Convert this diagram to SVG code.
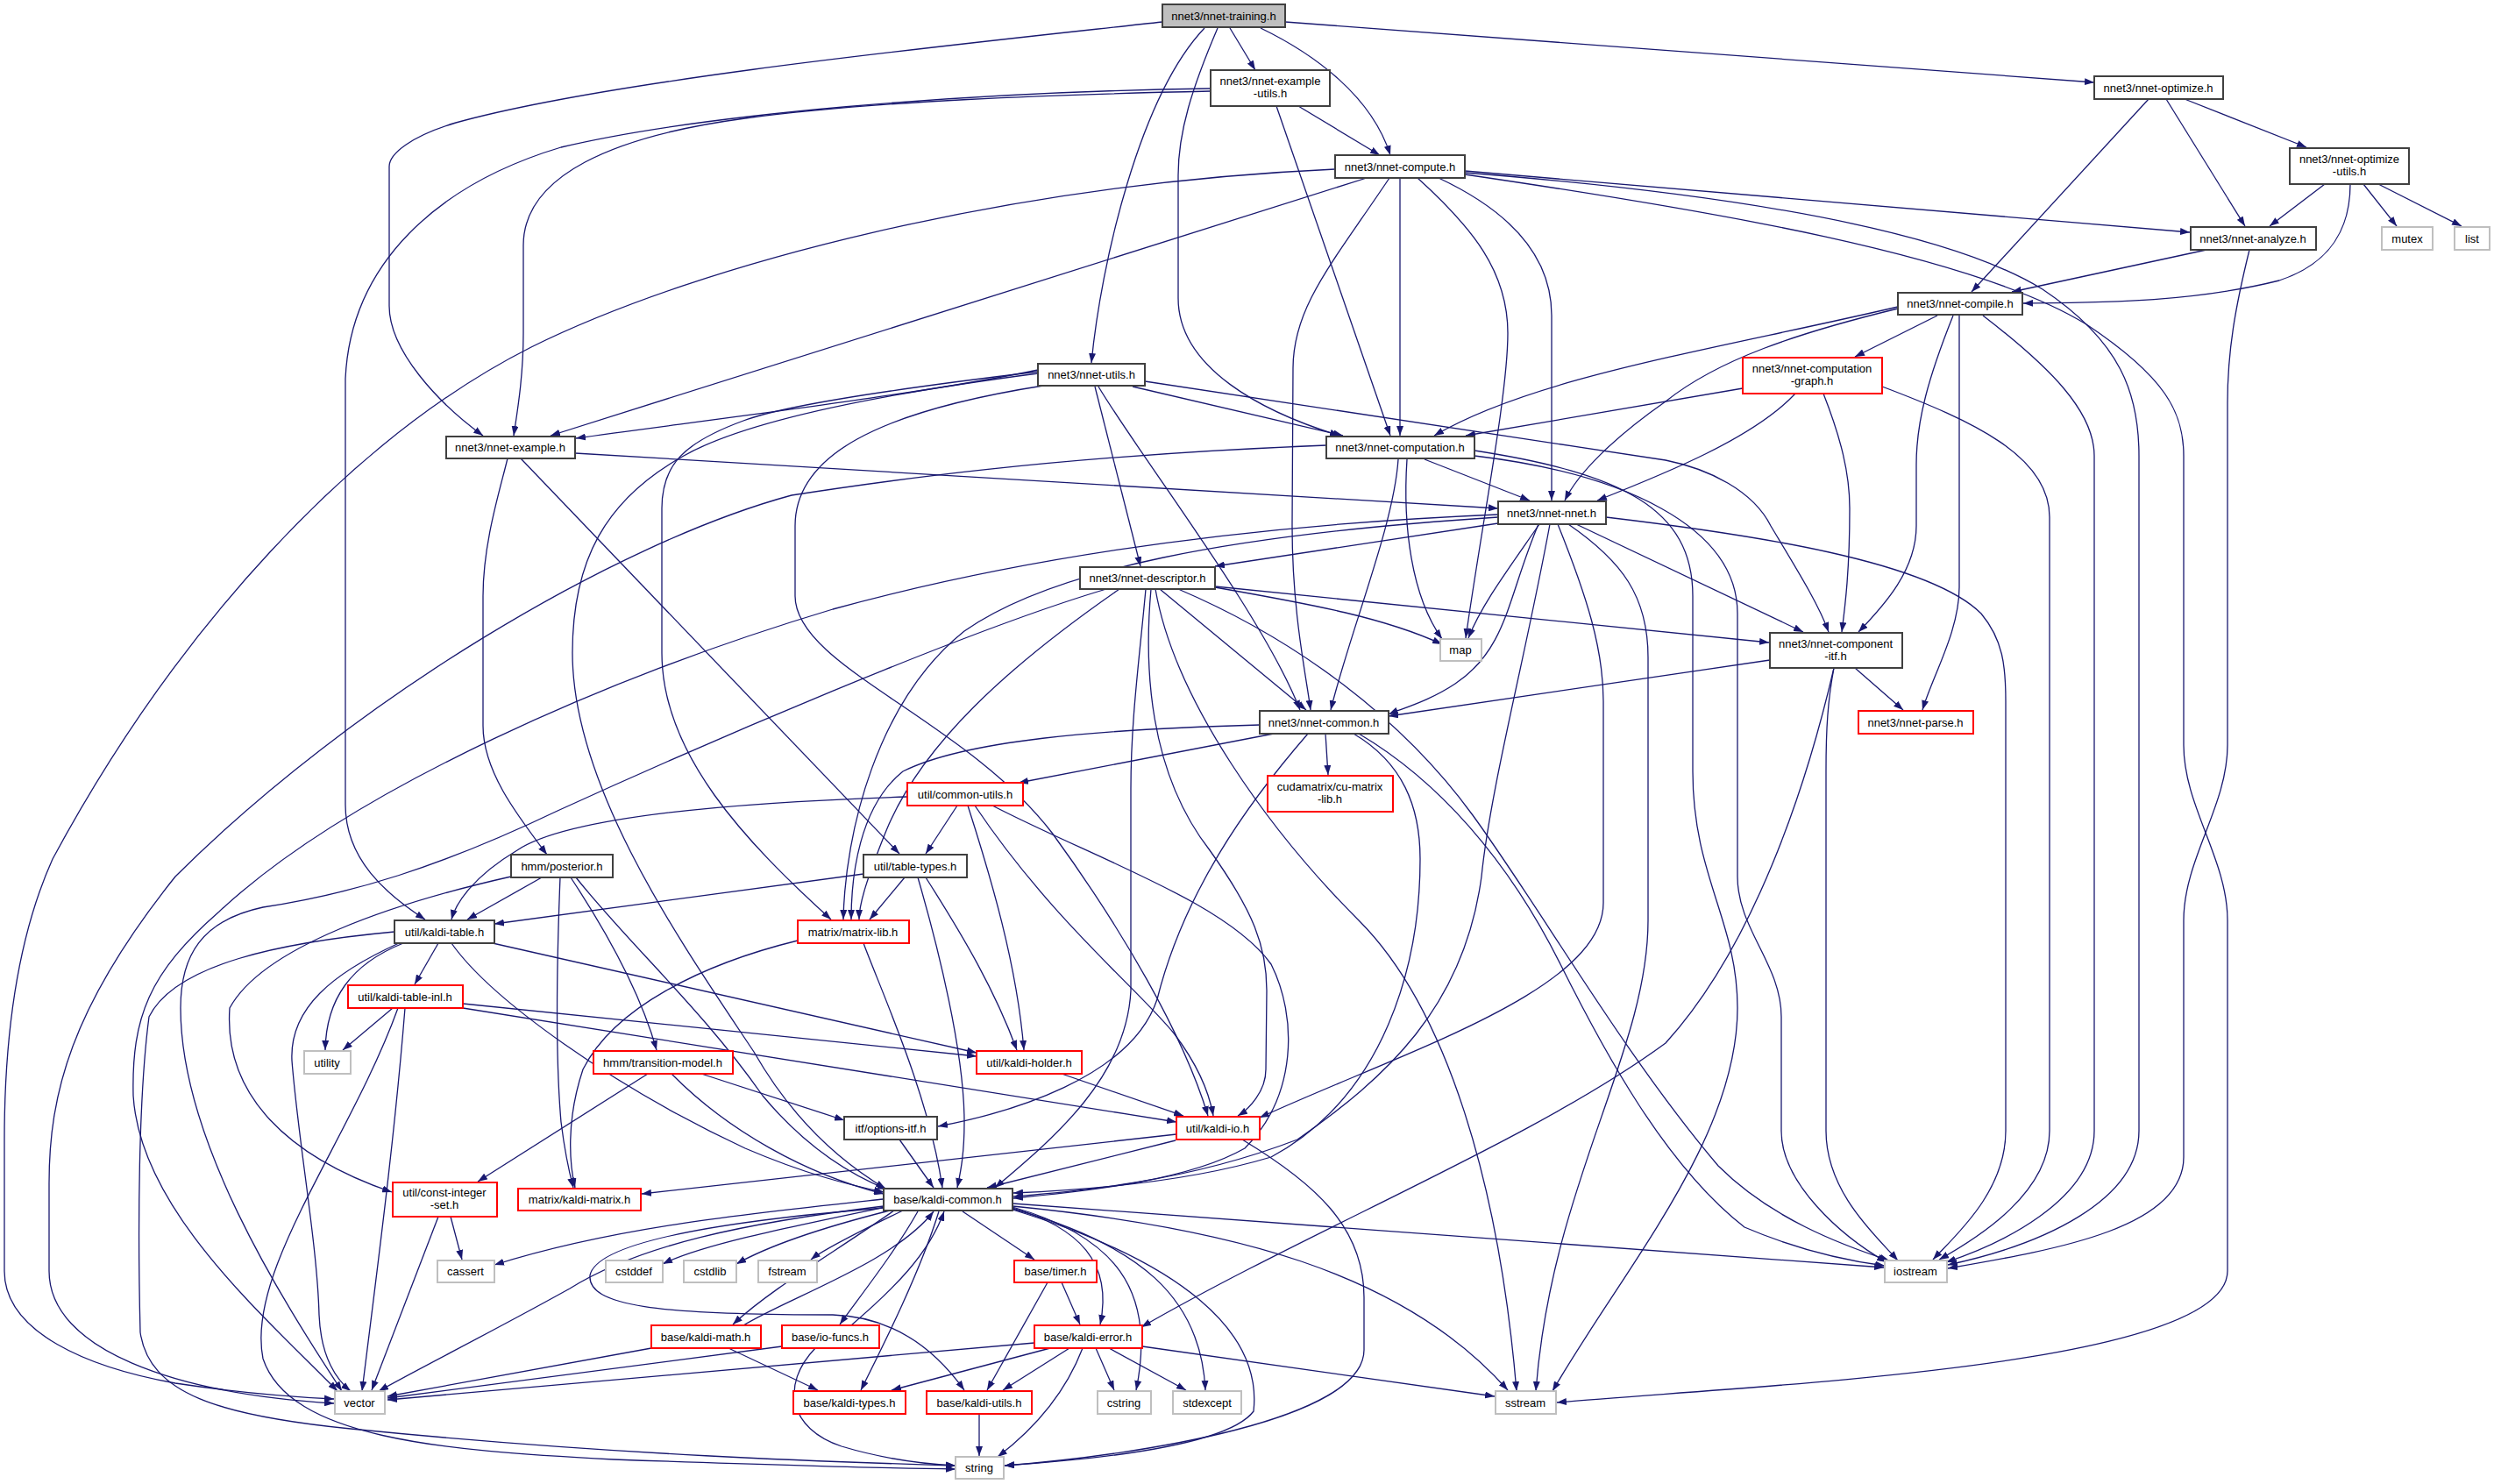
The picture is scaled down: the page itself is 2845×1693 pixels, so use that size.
<svg xmlns="http://www.w3.org/2000/svg" width="2845" height="1693" viewBox="0 0 2845 1693">
<style>
.n rect{fill:#fff;stroke:#404040;stroke-width:2}
.r rect{fill:#fff;stroke:#ff0000;stroke-width:2}
.g rect{fill:#fff;stroke:#bfbfbf;stroke-width:2}
.root rect{fill:#bfbfbf;stroke:#404040;stroke-width:2}
text{font-family:"Liberation Sans",Arial,sans-serif;font-size:13px;fill:#000;text-anchor:middle}
.e path{fill:none;stroke:#191970;stroke-width:1.3;marker-end:url(#ah)}
</style>
<defs>
<marker id="ah" viewBox="0 0 11 8" refX="11" refY="4" markerWidth="11" markerHeight="8" markerUnits="userSpaceOnUse" orient="auto"><path d="M0,0L11,4L0,8z" fill="#191970"/></marker>
</defs>
<rect width="2845" height="1693" fill="#fff"/>
<g class="e" id="edges">
<path d="M1403,32L1432,80"/>
<path d="M1438,32C1500,62 1565,110 1586,177"/>
<path d="M1374,32C1300,110 1256,300 1245,414"/>
<path d="M1389,32C1360,100 1344,150 1344,200L1344,340C1344,420 1440,470 1528,497"/>
<path d="M1326,25C1100,50 700,90 520,140C470,155 444,175 444,190L444,349C444,400 500,460 551,497"/>
<path d="M1466,25L2389,94"/>
<path d="M1481,121L1574,177"/>
<path d="M1456,121L1586,497"/>
<path d="M1381,104C1200,108 1000,115 850,135C700,155 597,200 597,280L597,380C597,430 590,470 586,497"/>
<path d="M1381,101C1100,105 800,130 640,168C500,210 400,300 394,432L394,918C394,980 440,1020 485,1049"/>
<path d="M1523,193C1150,210 800,300 606,396C400,500 200,720 60,980C15,1080 5,1200 5,1300L5,1450C5,1520 100,1560 200,1578C280,1590 340,1594 381,1596"/>
<path d="M1559,203L628,497"/>
<path d="M1585,203C1520,300 1475,350 1475,420L1474,600C1474,700 1490,770 1495,810"/>
<path d="M1597,203L1597,497"/>
<path d="M1617,203C1680,260 1720,310 1720,380C1720,450 1690,600 1672,728"/>
<path d="M1641,203C1720,240 1770,290 1770,360L1770,571"/>
<path d="M1671,195L2498,265"/>
<path d="M1671,197C1900,215 2200,250 2330,330C2420,390 2440,450 2440,520L2440,1290C2440,1370 2330,1420 2222,1443"/>
<path d="M1671,199C1950,240 2250,290 2380,370C2470,430 2491,470 2491,520L2491,850C2491,920 2541,980 2541,1050L2541,1450C2541,1560 2000,1580 1776,1600"/>
<path d="M2451,113L2249,333"/>
<path d="M2471,113L2561,258"/>
<path d="M2492,113L2631,168"/>
<path d="M2652,210L2589,258"/>
<path d="M2681,210C2681,260 2660,300 2600,320C2500,345 2400,345 2308,346"/>
<path d="M2696,210L2734,258"/>
<path d="M2713,210L2808,258"/>
<path d="M2517,285L2295,333"/>
<path d="M2566,285C2550,350 2541,400 2541,460L2541,850C2541,920 2491,980 2491,1050L2491,1320C2491,1400 2350,1425 2222,1447"/>
<path d="M2165,350C1950,400 1750,430 1636,497"/>
<path d="M2165,352C2050,380 1960,410 1900,458C1840,500 1800,540 1785,571"/>
<path d="M2210,360L2116,407"/>
<path d="M2228,360C2200,430 2186,480 2186,530L2186,600C2186,650 2150,690 2120,721"/>
<path d="M2235,360L2235,670C2235,720 2205,770 2193,810"/>
<path d="M2262,360C2340,420 2389,470 2389,520L2389,1290C2389,1370 2280,1420 2220,1440"/>
<path d="M1988,443L1672,497"/>
<path d="M2048,449C2000,500 1900,540 1822,571"/>
<path d="M2080,449C2100,500 2110,540 2110,580C2110,650 2105,690 2101,721"/>
<path d="M2147,441C2250,480 2338,520 2338,590L2338,1290C2338,1360 2260,1410 2212,1437"/>
<path d="M1184,422C1050,450 800,480 657,500"/>
<path d="M1292,441L1532,497"/>
<path d="M1249,441L1301,646"/>
<path d="M1253,441C1300,520 1440,700 1483,810"/>
<path d="M1306,435L1900,525C1950,535 2000,560 2020,600C2050,650 2075,690 2086,721"/>
<path d="M1184,424C1050,440 900,460 848,480C780,505 755,530 755,580L755,745C755,860 850,960 948,1049"/>
<path d="M1184,426C1000,450 850,480 780,520C690,570 653,640 653,745C653,900 780,1080 860,1200C900,1270 950,1320 1010,1356"/>
<path d="M1190,440C1000,470 907,520 907,600L907,680C907,760 1100,820 1200,950C1280,1060 1350,1180 1378,1273"/>
<path d="M1625,524L1745,571"/>
<path d="M1595,524C1590,600 1540,720 1518,810"/>
<path d="M1605,524C1600,600 1610,680 1645,729"/>
<path d="M1513,508C1200,520 1000,550 903,565C700,620 400,800 200,1000C80,1150 56,1250 56,1350L56,1450C56,1540 200,1590 381,1601"/>
<path d="M1682,514C1850,540 1931,580 1931,680L1931,880C1931,1000 1982,1050 1982,1150C1982,1300 1850,1450 1771,1587"/>
<path d="M1682,520C1850,540 1982,600 1982,700L1982,1000C1982,1060 2032,1100 2032,1160L2032,1290C2032,1350 2100,1410 2152,1440"/>
<path d="M656,517L1709,580"/>
<path d="M594,523L1026,974"/>
<path d="M579,523C570,560 551,620 551,680L551,828C551,880 590,930 624,975"/>
<path d="M1709,597L1386,646"/>
<path d="M1756,598C1720,650 1690,690 1675,728"/>
<path d="M1798,598L2057,721"/>
<path d="M1755,598C1720,680 1720,740 1660,780C1630,800 1600,808 1584,815"/>
<path d="M1709,587C1400,600 1150,640 950,695C700,770 400,900 250,1040C170,1110 150,1160 152,1250C160,1380 300,1500 385,1587"/>
<path d="M1709,590C1400,610 1200,650 1100,720C1000,800 964,950 962,1049"/>
<path d="M1768,598C1740,750 1700,900 1690,1000C1670,1150 1580,1230 1480,1300C1350,1350 1220,1360 1156,1365"/>
<path d="M1777,598C1810,680 1829,740 1829,800L1829,1030C1829,1130 1600,1200 1437,1275"/>
<path d="M1832,590C2000,610 2200,640 2260,700C2285,730 2288,760 2288,800L2288,1290C2288,1360 2230,1410 2205,1437"/>
<path d="M1789,598C1850,640 1880,680 1880,750L1880,1050C1880,1200 1770,1350 1752,1587"/>
<path d="M1386,670C1500,690 1580,705 1645,735"/>
<path d="M1386,669L2018,733"/>
<path d="M1323,672L1490,810"/>
<path d="M1262,672C1100,720 800,850 636,925C500,990 400,1020 300,1035C230,1050 206,1090 206,1150C206,1300 320,1480 390,1587"/>
<path d="M1277,672C1150,760 1050,850 1010,950C990,1000 980,1030 980,1049"/>
<path d="M1307,672C1300,750 1290,820 1290,900L1290,1130C1285,1230 1200,1300 1135,1355"/>
<path d="M1313,672C1305,760 1310,880 1380,970C1430,1040 1445,1080 1445,1130L1444,1220C1444,1245 1425,1265 1412,1273"/>
<path d="M1344,672C1480,730 1600,820 1680,930C1760,1040 1850,1200 1960,1330C2020,1390 2100,1420 2155,1438"/>
<path d="M1318,672C1340,800 1450,950 1550,1050C1650,1150 1710,1350 1730,1587"/>
<path d="M2019,753L1584,817"/>
<path d="M2116,762L2171,810"/>
<path d="M2092,762C2085,800 2083,830 2083,880L2083,1290C2083,1360 2140,1410 2165,1438"/>
<path d="M2092,762C2060,900 2000,1080 1900,1190C1750,1300 1500,1400 1302,1514"/>
<path d="M1453,837L1162,893"/>
<path d="M1512,837L1515,884"/>
<path d="M1492,837C1420,920 1350,1020 1320,1140C1290,1230 1150,1270 1070,1285"/>
<path d="M1437,827C1250,832 1100,845 1030,880C980,920 971,1000 971,1049"/>
<path d="M1544,837C1600,870 1620,920 1620,980C1620,1100 1580,1250 1450,1320C1350,1350 1230,1358 1156,1361"/>
<path d="M1550,837C1640,890 1720,980 1780,1100C1830,1200 1900,1330 1990,1400C2060,1430 2120,1440 2150,1444"/>
<path d="M1035,909C850,915 650,930 590,970C540,1000 520,1030 515,1049"/>
<path d="M1092,919L1056,974"/>
<path d="M1104,919C1130,1000 1160,1100 1168,1198"/>
<path d="M1112,919C1200,1050 1300,1130 1340,1180C1370,1220 1380,1250 1384,1273"/>
<path d="M1132,919C1250,980 1400,1030 1450,1100C1480,1160 1480,1250 1420,1310C1350,1350 1220,1360 1156,1367"/>
<path d="M985,997L564,1054"/>
<path d="M1032,1001L992,1049"/>
<path d="M1056,1001C1100,1070 1135,1130 1160,1198"/>
<path d="M1047,1001C1070,1080 1100,1200 1100,1280C1100,1320 1095,1340 1092,1355"/>
<path d="M618,1001L533,1049"/>
<path d="M651,1001C690,1060 730,1130 749,1198"/>
<path d="M639,1001C635,1100 633,1200 640,1280C645,1320 650,1340 654,1355"/>
<path d="M583,1000C450,1030 300,1080 262,1150C255,1250 330,1320 447,1360"/>
<path d="M657,1001C720,1080 800,1150 870,1250C920,1310 970,1340 1012,1357"/>
<path d="M500,1076L473,1123"/>
<path d="M460,1076C400,1100 372,1140 371,1198"/>
<path d="M455,1076C380,1110 330,1150 333,1210C340,1300 362,1420 364,1500C366,1550 385,1575 400,1587"/>
<path d="M450,1063C320,1075 200,1100 170,1160C158,1250 157,1400 160,1520C170,1590 250,1615 400,1630C700,1660 950,1668 1090,1672"/>
<path d="M515,1076C560,1140 700,1240 850,1310C920,1340 970,1352 1008,1360"/>
<path d="M562,1076L1114,1201"/>
<path d="M910,1073C800,1100 700,1150 665,1220C645,1280 650,1330 656,1355"/>
<path d="M985,1076C1005,1130 1060,1250 1075,1355"/>
<path d="M448,1150L391,1198"/>
<path d="M462,1150C450,1300 430,1450 413,1587"/>
<path d="M454,1150C400,1300 280,1450 300,1550C330,1640 500,1655 700,1665C900,1672 1000,1675 1090,1676"/>
<path d="M528,1145L1114,1205"/>
<path d="M528,1150L1342,1280"/>
<path d="M739,1225L545,1348"/>
<path d="M766,1225C830,1290 920,1340 1008,1362"/>
<path d="M800,1225L963,1278"/>
<path d="M1211,1225L1350,1273"/>
<path d="M1026,1300L1065,1355"/>
<path d="M1341,1301L1126,1355"/>
<path d="M1342,1294L732,1362"/>
<path d="M1417,1300C1500,1350 1556,1400 1556,1480L1556,1540C1556,1620 1300,1660 1146,1672"/>
<path d="M514,1388L527,1437"/>
<path d="M500,1388L424,1586"/>
<path d="M1008,1368C850,1385 700,1400 564,1443"/>
<path d="M1010,1377C900,1400 800,1420 756,1442"/>
<path d="M1015,1381C920,1405 870,1425 840,1442"/>
<path d="M1030,1381C980,1405 940,1425 925,1437"/>
<path d="M1098,1382L1180,1437"/>
<path d="M1155,1378C1230,1400 1270,1440 1255,1511"/>
<path d="M1020,1381C950,1430 880,1470 836,1511"/>
<path d="M848,1512C900,1480 1020,1440 1065,1382"/>
<path d="M1047,1382C1020,1430 980,1480 958,1511"/>
<path d="M971,1512C1020,1470 1060,1430 1077,1382"/>
<path d="M1008,1376C850,1395 730,1420 650,1470C560,1520 480,1560 432,1587"/>
<path d="M1071,1382C1050,1450 1010,1530 982,1586"/>
<path d="M1008,1378C800,1395 680,1420 673,1455C670,1490 750,1500 950,1500C1010,1502 1060,1530 1100,1586"/>
<path d="M1155,1377C1270,1410 1320,1470 1296,1586"/>
<path d="M1155,1379C1300,1420 1370,1480 1375,1586"/>
<path d="M1155,1376C1400,1400 1600,1450 1720,1586"/>
<path d="M1155,1380C1350,1440 1440,1520 1430,1610C1400,1650 1250,1665 1146,1672"/>
<path d="M1155,1373L2149,1446"/>
<path d="M743,1538L442,1593"/>
<path d="M831,1538L933,1586"/>
<path d="M892,1536L442,1595"/>
<path d="M930,1538C890,1580 900,1630 960,1650C1010,1665 1050,1670 1090,1672"/>
<path d="M1211,1463L1232,1511"/>
<path d="M1195,1463L1126,1586"/>
<path d="M1180,1532L442,1597"/>
<path d="M1198,1538L1017,1586"/>
<path d="M1220,1538L1144,1586"/>
<path d="M1250,1538L1271,1586"/>
<path d="M1265,1538L1353,1586"/>
<path d="M1303,1536L1705,1593"/>
<path d="M1235,1538C1215,1590 1180,1630 1138,1662"/>
<path d="M1117,1613L1117,1661"/>
</g>
<g id="n1" class="root"><rect x="1326" y="5" width="140" height="26"/><text x="1396" y="22.5">nnet3/nnet-training.h</text></g>
<g id="n2" class="n"><rect x="1381" y="80" width="136" height="41"/><text x="1449" y="97">nnet3/nnet-example</text><text x="1449" y="111">-utils.h</text></g>
<g id="n3" class="n"><rect x="1523" y="177" width="148" height="26"/><text x="1597" y="194.5">nnet3/nnet-compute.h</text></g>
<g id="n4" class="n"><rect x="2389" y="87" width="147" height="26"/><text x="2462" y="104.5">nnet3/nnet-optimize.h</text></g>
<g id="n5" class="n"><rect x="2612" y="169" width="136" height="41"/><text x="2680" y="186">nnet3/nnet-optimize</text><text x="2680" y="200">-utils.h</text></g>
<g id="n6" class="n"><rect x="2499" y="259" width="143" height="26"/><text x="2570" y="276.5">nnet3/nnet-analyze.h</text></g>
<g id="n7" class="g"><rect x="2717" y="259" width="58" height="26"/><text x="2746" y="276.5">mutex</text></g>
<g id="n8" class="g"><rect x="2800" y="259" width="40" height="26"/><text x="2820" y="276.5">list</text></g>
<g id="n9" class="n"><rect x="2165" y="334" width="142" height="25"/><text x="2236" y="351">nnet3/nnet-compile.h</text></g>
<g id="n10" class="r"><rect x="1988" y="408" width="159" height="41"/><text x="2067" y="425">nnet3/nnet-computation</text><text x="2067" y="439">-graph.h</text></g>
<g id="n11" class="n"><rect x="1184" y="415" width="122" height="25"/><text x="1245" y="432">nnet3/nnet-utils.h</text></g>
<g id="n12" class="n"><rect x="1513" y="498" width="169" height="25"/><text x="1597" y="515">nnet3/nnet-computation.h</text></g>
<g id="n13" class="n"><rect x="509" y="498" width="147" height="25"/><text x="582" y="515">nnet3/nnet-example.h</text></g>
<g id="n14" class="n"><rect x="1709" y="572" width="123" height="26"/><text x="1770" y="589.5">nnet3/nnet-nnet.h</text></g>
<g id="n15" class="n"><rect x="1232" y="647" width="154" height="25"/><text x="1309" y="664">nnet3/nnet-descriptor.h</text></g>
<g id="n16" class="g"><rect x="1643" y="729" width="47" height="25"/><text x="1666" y="746">map</text></g>
<g id="n17" class="n"><rect x="2019" y="722" width="151" height="40"/><text x="2094" y="739">nnet3/nnet-component</text><text x="2094" y="753">-itf.h</text></g>
<g id="n18" class="n"><rect x="1437" y="811" width="147" height="26"/><text x="1510" y="828.5">nnet3/nnet-common.h</text></g>
<g id="n19" class="r"><rect x="2120" y="811" width="131" height="26"/><text x="2185" y="828.5">nnet3/nnet-parse.h</text></g>
<g id="n20" class="r"><rect x="1446" y="885" width="143" height="41"/><text x="1517" y="902">cudamatrix/cu-matrix</text><text x="1517" y="916">-lib.h</text></g>
<g id="n21" class="r"><rect x="1035" y="893" width="132" height="26"/><text x="1101" y="910.5">util/common-utils.h</text></g>
<g id="n22" class="n"><rect x="985" y="975" width="118" height="26"/><text x="1044" y="992.5">util/table-types.h</text></g>
<g id="n23" class="n"><rect x="583" y="975" width="116" height="26"/><text x="641" y="992.5">hmm/posterior.h</text></g>
<g id="n24" class="n"><rect x="450" y="1050" width="114" height="26"/><text x="507" y="1067.5">util/kaldi-table.h</text></g>
<g id="n25" class="r"><rect x="910" y="1050" width="127" height="26"/><text x="973" y="1067.5">matrix/matrix-lib.h</text></g>
<g id="n26" class="r"><rect x="397" y="1124" width="131" height="26"/><text x="462" y="1141.5">util/kaldi-table-inl.h</text></g>
<g id="n27" class="g"><rect x="347" y="1199" width="53" height="26"/><text x="373" y="1216.5">utility</text></g>
<g id="n28" class="r"><rect x="1114" y="1199" width="120" height="26"/><text x="1174" y="1216.5">util/kaldi-holder.h</text></g>
<g id="n29" class="r"><rect x="677" y="1199" width="159" height="26"/><text x="756" y="1216.5">hmm/transition-model.h</text></g>
<g id="n30" class="n"><rect x="963" y="1274" width="106" height="26"/><text x="1016" y="1291.5">itf/options-itf.h</text></g>
<g id="n31" class="r"><rect x="1342" y="1274" width="95" height="26"/><text x="1389" y="1291.5">util/kaldi-io.h</text></g>
<g id="n32" class="r"><rect x="448" y="1349" width="119" height="39"/><text x="507" y="1365">util/const-integer</text><text x="507" y="1379">-set.h</text></g>
<g id="n33" class="r"><rect x="591" y="1356" width="140" height="25"/><text x="661" y="1373">matrix/kaldi-matrix.h</text></g>
<g id="n34" class="n"><rect x="1008" y="1356" width="147" height="25"/><text x="1081" y="1373">base/kaldi-common.h</text></g>
<g id="n35" class="g"><rect x="499" y="1438" width="65" height="25"/><text x="531" y="1455">cassert</text></g>
<g id="n36" class="g"><rect x="691" y="1438" width="65" height="25"/><text x="723" y="1455">cstddef</text></g>
<g id="n37" class="g"><rect x="780" y="1438" width="60" height="25"/><text x="810" y="1455">cstdlib</text></g>
<g id="n38" class="g"><rect x="865" y="1438" width="67" height="25"/><text x="898" y="1455">fstream</text></g>
<g id="n39" class="r"><rect x="1157" y="1438" width="94" height="25"/><text x="1204" y="1455">base/timer.h</text></g>
<g id="n40" class="g"><rect x="2150" y="1438" width="71" height="25"/><text x="2185" y="1455">iostream</text></g>
<g id="n41" class="r"><rect x="1180" y="1512" width="123" height="26"/><text x="1241" y="1529.5">base/kaldi-error.h</text></g>
<g id="n42" class="r"><rect x="743" y="1512" width="125" height="26"/><text x="805" y="1529.5">base/kaldi-math.h</text></g>
<g id="n43" class="r"><rect x="892" y="1512" width="111" height="26"/><text x="947" y="1529.5">base/io-funcs.h</text></g>
<g id="n44" class="g"><rect x="382" y="1587" width="57" height="26"/><text x="410" y="1604.5">vector</text></g>
<g id="n45" class="r"><rect x="905" y="1587" width="128" height="26"/><text x="969" y="1604.5">base/kaldi-types.h</text></g>
<g id="n46" class="r"><rect x="1057" y="1587" width="120" height="26"/><text x="1117" y="1604.5">base/kaldi-utils.h</text></g>
<g id="n47" class="g"><rect x="1252" y="1587" width="61" height="26"/><text x="1282" y="1604.5">cstring</text></g>
<g id="n48" class="g"><rect x="1338" y="1587" width="78" height="26"/><text x="1377" y="1604.5">stdexcept</text></g>
<g id="n49" class="g"><rect x="1706" y="1587" width="69" height="26"/><text x="1740" y="1604.5">sstream</text></g>
<g id="n50" class="g"><rect x="1090" y="1662" width="55" height="25"/><text x="1117" y="1679">string</text></g>
</svg>
